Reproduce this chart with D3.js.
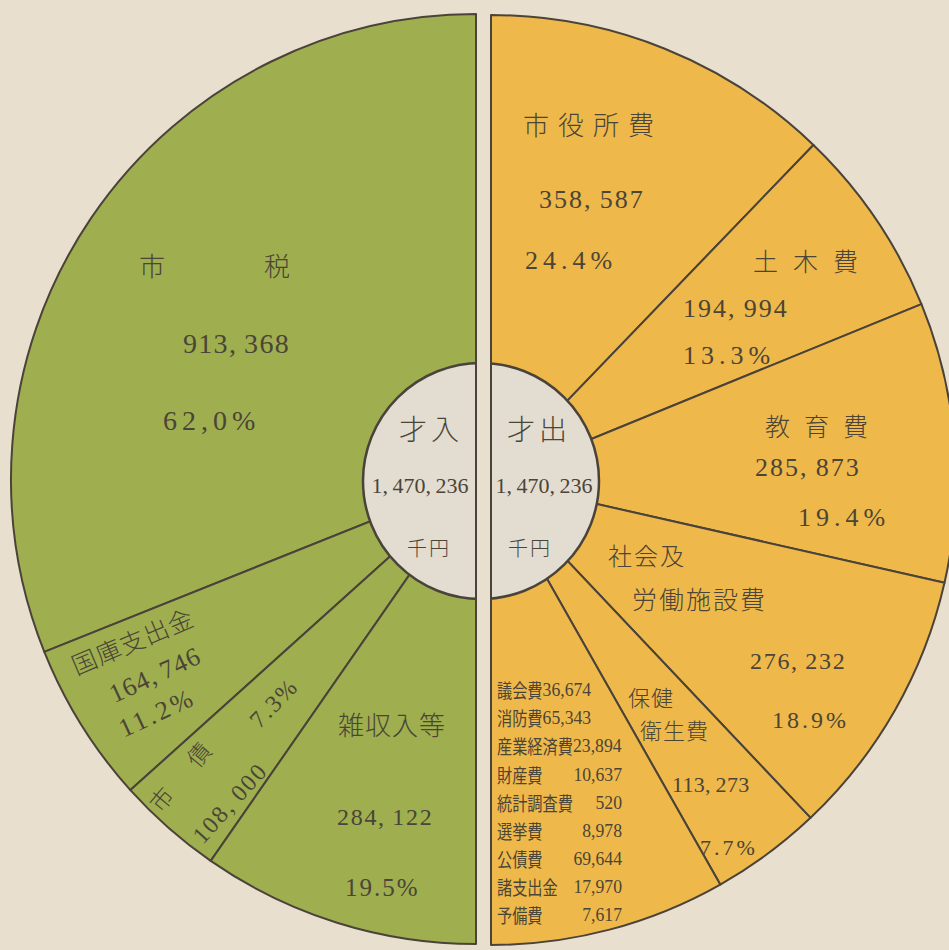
<!DOCTYPE html>
<html>
<head>
<meta charset="utf-8">
<script src="https://cdn.jsdelivr.net/npm/d3@7"></script>
<style>
  html, body { margin: 0; padding: 0; background: #e9dfcf; }
  svg { display: block; }
</style>
</head>
<body>
<svg width="949" height="950"></svg>
<script>
// ////////////////////////////////////////////////////////////// budget.js //

// 0. data
// ----------------------------------
const revenueNames = ['市税', '国庫支出金', '市債', '雑収入等'];
const revenueValues = [913368, 164746, 108000, 284122];
const revenueShares = ['62,0%', '11.2%', '7.3%', '19.5%'];

const expenseNames = ['市役所費', '土木費', '教育費', '社会及労働施設費', '保健衛生費'];
const expenseValues = [358587, 194994, 285873, 276232, 113273];
const expenseShares = ['24.4%', '13.3%', '19.4%', '18.9%', '7.7%'];

// small items, drawn as one wedge and listed inside it
const minorNames = ['議会費', '消防費', '産業経済費', '財産費', '統計調査費',
  '選挙費', '公債費', '諸支出金', '予備費'];
const minorValues = [36674, 65343, 23894, 10637, 520, 8978, 69644, 17970, 7617];

const centerTitles = ['才入', '才出'];
const unitLabel = '千円';

// 1. setup
// ----------------------------------
const JP = '"Noto Sans CJK JP", sans-serif';
const NUM = '"Liberation Serif", "DejaVu Serif", serif';
const INK = '#4a4536';
const LINE = '#4a433a';
const PAPER = '#e9dfcf';

const fmt = d3.format(',');
// printed numbers leave a little gap after each comma
const fmtWide = (v) => fmt(v).replace(/,/g, ',\u2009');
const total = d3.sum(revenueValues);

const svg = d3.select('svg');
svg.append('rect')
    .attr('width', 949)
    .attr('height', 950)
    .style('fill', PAPER);

const R = 465;
const left = svg.append('g').attr('transform', 'translate(476,479)');
const right = svg.append('g').attr('transform', 'translate(491,480)');

const arc = d3.arc().innerRadius(0).outerRadius(R);

// 2. the two half pies
// ----------------------------------
const revPie = d3.pie().sort(null).startAngle(0).endAngle(-Math.PI);
left.selectAll('path')
    .data(revPie(revenueValues))
    .enter()
    .append('path')
    .attr('d', arc)
    .style('fill', '#9fae4f')
    .style('stroke', LINE)
    .style('stroke-width', 2)
    .style('stroke-linejoin', 'round');

const expAll = expenseValues.concat([d3.sum(minorValues)]);
const expPie = d3.pie().sort(null).startAngle(0).endAngle(Math.PI);
right.selectAll('path')
    .data(expPie(expAll))
    .enter()
    .append('path')
    .attr('d', arc)
    .style('fill', '#efb84a')
    .style('stroke', LINE)
    .style('stroke-width', 2)
    .style('stroke-linejoin', 'round');

// 3. centre disc, split by the gap
// ----------------------------------
const hub = {x: 481, y: 481, r: 118};
svg.append('circle')
    .attr('cx', hub.x)
    .attr('cy', hub.y)
    .attr('r', hub.r)
    .style('fill', '#e3dcd1')
    .style('stroke', LINE)
    .style('stroke-width', 2.5);

svg.append('rect')
    .attr('x', 477)
    .attr('y', hub.y - hub.r - 2)
    .attr('width', 13)
    .attr('height', hub.r * 2 + 4)
    .style('fill', PAPER);

[476, 491].forEach((x) => {
  svg.append('line')
      .attr('x1', x).attr('x2', x)
      .attr('y1', hub.y - hub.r - 2)
      .attr('y2', hub.y + hub.r + 2)
      .style('stroke', LINE)
      .style('stroke-width', 2);
});

// 4. labels (placed by hand like the printed chart)
// ----------------------------------
const labels = [
  // revenue
  {t: revenueNames[0], x: 139, y: 264, s: 26, ls: 99, f: JP},
  {t: fmtWide(revenueValues[0]), x: 183, y: 343, s: 28, ls: 1.3, f: NUM},
  {t: revenueShares[0], x: 163, y: 420, s: 28, ls: 5, f: NUM},
  {t: revenueNames[1], x: 132, y: 640, s: 25, ls: 1, f: JP, r: -23},
  {t: fmtWide(revenueValues[1]), x: 155, y: 675, s: 26, ls: 1, f: NUM, r: -25},
  {t: revenueShares[1], x: 157, y: 713, s: 26, ls: 3, f: NUM, r: -25},
  {t: revenueNames[2].split('').join('　'), x: 181, y: 774, s: 23, ls: 6, f: JP, r: -50},
  {t: revenueShares[2], x: 274, y: 703, s: 24, ls: 2, f: NUM, r: -46},
  {t: fmtWide(revenueValues[2]), x: 230, y: 803, s: 24, ls: 2, f: NUM, r: -48},
  {t: revenueNames[3], x: 338, y: 723, s: 26, ls: 1, f: JP},
  {t: fmtWide(revenueValues[3]), x: 337, y: 817, s: 24, ls: 1.7, f: NUM},
  {t: revenueShares[3], x: 345, y: 887, s: 25, ls: 2, f: NUM},
  // expense
  {t: expenseNames[0], x: 523, y: 123, s: 26, ls: 9, f: JP},
  {t: fmtWide(expenseValues[0]), x: 539, y: 199, s: 26, ls: 2, f: NUM},
  {t: expenseShares[0], x: 525, y: 260, s: 26, ls: 5, f: NUM},
  {t: expenseNames[1], x: 753, y: 260, s: 25, ls: 15, f: JP},
  {t: fmtWide(expenseValues[1]), x: 683, y: 308, s: 26, ls: 2, f: NUM},
  {t: expenseShares[1], x: 683, y: 355, s: 26, ls: 5, f: NUM},
  {t: expenseNames[2], x: 765, y: 425, s: 25, ls: 14, f: JP},
  {t: fmtWide(expenseValues[2]), x: 755, y: 467, s: 26, ls: 2, f: NUM},
  {t: expenseShares[2], x: 798, y: 517, s: 26, ls: 5, f: NUM},
  {t: expenseNames[3].slice(0, 3), x: 608, y: 554, s: 24, ls: 2, f: JP},
  {t: expenseNames[3].slice(3), x: 632, y: 598, s: 25, ls: 2, f: JP},
  {t: fmtWide(expenseValues[3]), x: 750, y: 661, s: 24, ls: 1.7, f: NUM},
  {t: expenseShares[3], x: 772, y: 720, s: 24, ls: 3, f: NUM},
  {t: expenseNames[4].slice(0, 2), x: 628, y: 696, s: 22, ls: 1, f: JP},
  {t: expenseNames[4].slice(2), x: 640, y: 729, s: 22, ls: 1, f: JP},
  {t: fmtWide(expenseValues[4]), x: 672, y: 784, s: 22, ls: 0.3, f: NUM},
  {t: expenseShares[4], x: 700, y: 847, s: 22, ls: 3, f: NUM},
  // centre
  {t: centerTitles[0], x: 431, y: 428, s: 28, ls: 4, f: JP, a: 'middle'},
  {t: fmtWide(total), x: 420, y: 485, s: 22, ls: 0, f: NUM, a: 'middle'},
  {t: unitLabel, x: 429, y: 547, s: 20, ls: 2, f: JP, a: 'middle'},
  {t: centerTitles[1], x: 539, y: 428, s: 28, ls: 4, f: JP, a: 'middle'},
  {t: fmtWide(d3.sum(expAll)), x: 544, y: 485, s: 22, ls: 0, f: NUM, a: 'middle'},
  {t: unitLabel, x: 530, y: 547, s: 20, ls: 2, f: JP, a: 'middle'},
];

svg.append('g').classed('labels', true)
    .selectAll('text')
    .data(labels)
    .enter()
    .append('text')
    .attr('transform', (d) => `translate(${d.x},${d.y})` + (d.r ? ` rotate(${d.r})` : ''))
    .attr('text-anchor', (d) => (d.r ? 'middle' : (d.a || 'start')))
    .attr('dominant-baseline', 'central')
    .style('font-family', (d) => d.f)
    .style('font-weight', (d) => (d.f === JP ? 300 : 400))
    .style('font-size', (d) => d.s + 'px')
    .style('letter-spacing', (d) => d.ls + 'px')
    .style('fill', INK)
    .text((d) => d.t);

// 5. list of the small items
// ----------------------------------
const listX = 497;
const listRight = 622;
const listTop = 690;
const listStep = 28.1;
const list = svg.append('g').classed('minor-list', true);

minorNames.forEach((name, i) => {
  const y = listTop + i * listStep;
  list.append('text')
      .attr('transform', `translate(${listX},${y}) scale(0.8,1)`)
      .attr('dominant-baseline', 'central')
      .style('font-family', JP)
      .style('font-size', '19px')
      .style('fill', INK)
      .text(name);

  // the first rows run the number straight after the name
  const inline = i < 3;
  const vx = inline ? listX + name.length * 19 * 0.8 : listRight;
  list.append('text')
      .attr('transform', `translate(${vx},${y}) scale(0.93,1)`)
      .attr('text-anchor', inline ? 'start' : 'end')
      .attr('dominant-baseline', 'central')
      .style('font-family', NUM)
      .style('font-size', '19px')
      .style('fill', INK)
      .text(fmt(minorValues[i]));
});
</script>
</body>
</html>
